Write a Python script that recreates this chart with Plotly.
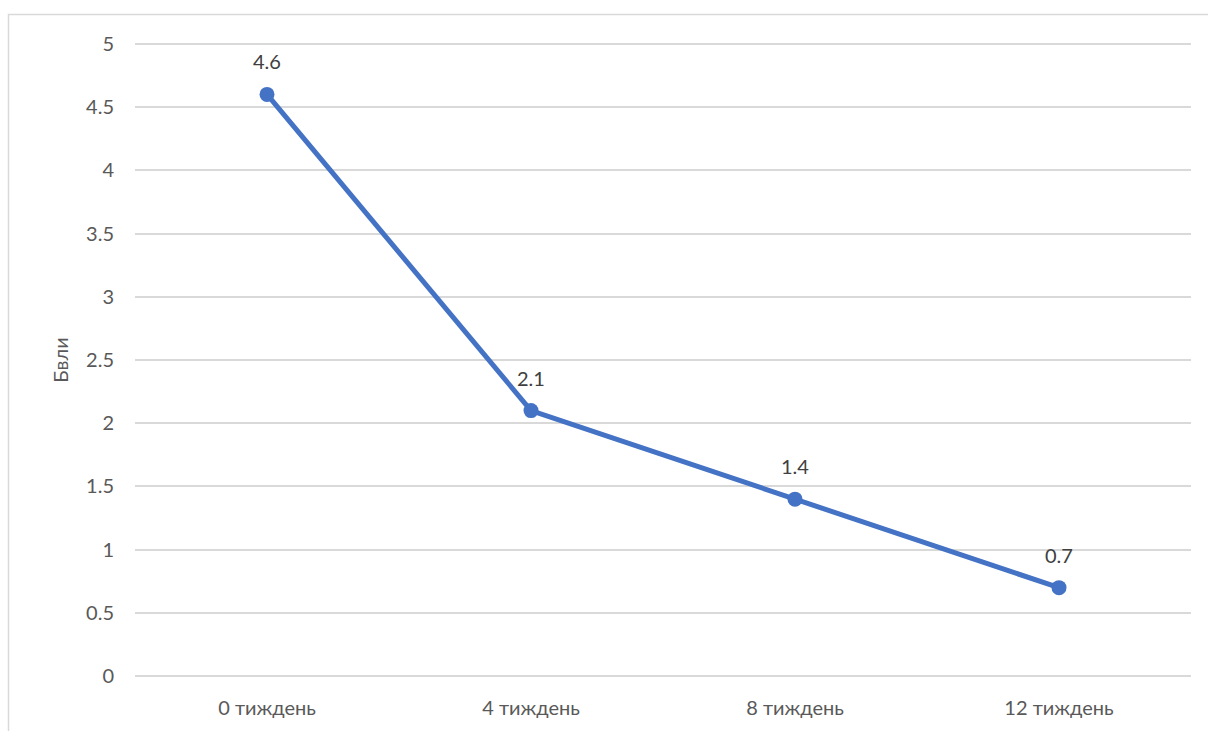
import plotly.graph_objects as go

# Weekly score values
weeks = ["0 тиждень", "4 тиждень", "8 тиждень", "12 тиждень"]
scores = [4.6, 2.1, 1.4, 0.7]
y_ticks = [0, 0.5, 1, 1.5, 2, 2.5, 3, 3.5, 4, 4.5, 5]
y_tick_text = ["0", "0.5", "1", "1.5", "2", "2.5", "3", "3.5", "4", "4.5", "5"]

LINE_BLUE = "#4472C4"
TEXT_GREY = "#595959"
GRID_GREY = "#D9D9D9"
FONT = "Lato, Carlito, Calibri, sans-serif"
FS = 20

fig = go.Figure()
fig.add_trace(go.Scatter(
    x=weeks,
    y=scores,
    mode="lines+markers",
    line=dict(color=LINE_BLUE, width=5),
    marker=dict(color=LINE_BLUE, size=15),
    hoverinfo="x+y",
    showlegend=False,
))

# Value labels above each point
for w, s in zip(weeks, scores):
    fig.add_annotation(
        x=w, y=s, text=f"{s:g}", showarrow=False,
        yshift=33, font=dict(family=FONT, size=FS, color="#404040"),
    )

# Margins chosen so the 0..5 gridlines sit inside the plot area
L, R, T, B = 135, 17, 40, 51
W, H = 1208, 731
pw, ph = W - L - R, H - T - B

# Light outer chart border
fig.add_shape(
    type="rect", xref="paper", yref="paper",
    x0=(8.5 - L) / pw, x1=(1230 - L) / pw,
    y0=(H - B - 760) / ph, y1=(H - B - 14.5) / ph,
    line=dict(color=GRID_GREY, width=1.5), fillcolor="rgba(0,0,0,0)",
    layer="below",
)

fig.update_layout(
    width=W, height=H,
    margin=dict(l=L, r=R, t=T, b=B, pad=0),
    paper_bgcolor="white",
    plot_bgcolor="white",
    font=dict(family=FONT, size=FS, color=TEXT_GREY),
    xaxis=dict(
        type="category",
        range=[-0.5, 3.5],
        automargin=False,
        showgrid=False,
        showline=False,
        zeroline=False,
        ticks="",
        ticklabelstandoff=14,
        tickfont=dict(family=FONT, size=FS, color=TEXT_GREY),
    ),
    yaxis=dict(
        range=[-0.03, 5.03],
        automargin=False,
        tickvals=y_ticks,
        ticktext=y_tick_text,
        showgrid=True,
        gridcolor=GRID_GREY,
        gridwidth=1.6,
        zeroline=False,
        showline=False,
        ticks="",
        ticklabelstandoff=20,
        tickfont=dict(family=FONT, size=FS, color=TEXT_GREY),
        title=dict(text="Бвли", font=dict(family=FONT, size=FS, color=TEXT_GREY), standoff=12),
    ),
)

fig.write_html("out.html")
